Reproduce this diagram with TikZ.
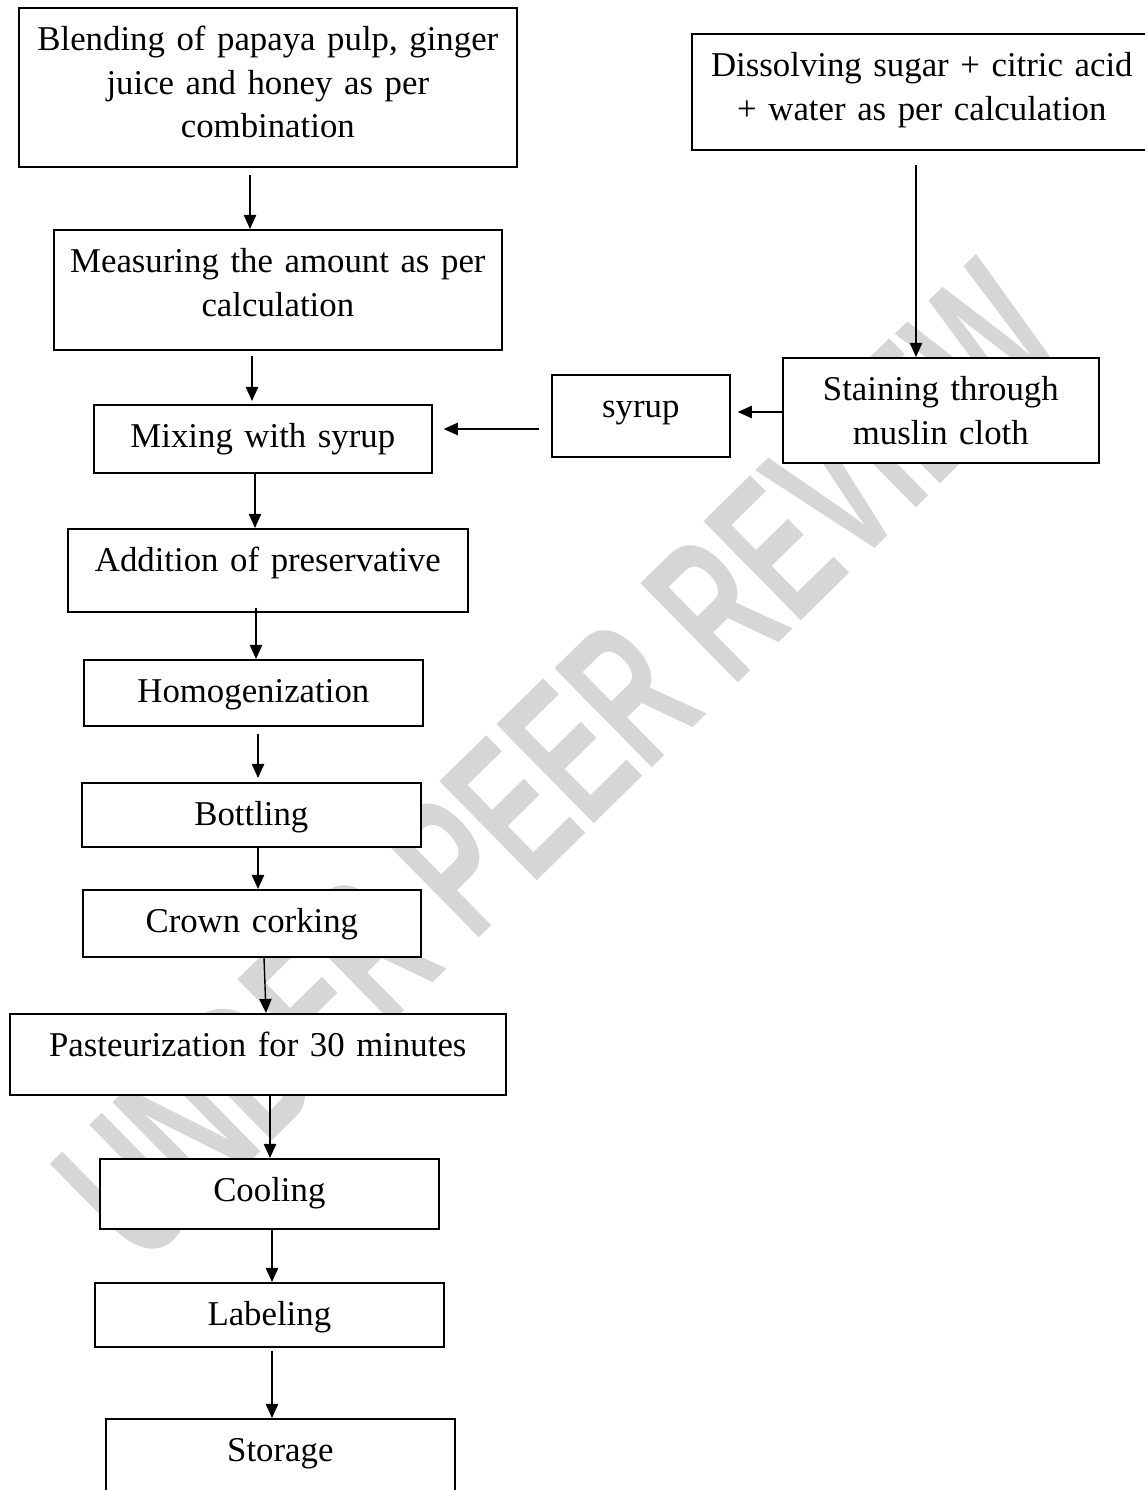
\documentclass[tikz,border=0pt]{standalone}
\usepackage{fontspec}
\setmainfont{Liberation Serif}
\newfontfamily\wmfont{Liberation Sans}
\usetikzlibrary{arrows.meta}

\begin{document}
\begin{tikzpicture}[x=0.02cm,y=-0.02cm,
            stepbox/.style={draw,fill=white,line width=1pt,anchor=north west,align=center,inner sep=0pt,text height=0.86cm,font=\fontsize{19.8}{24.7}\selectfont},
            flow/.style={-{Triangle[length=8pt,width=7pt]},line width=0.8pt},
            watermark/.style={rotate=44.5,xscale=0.6,text=black!16,inner sep=0pt,font=\wmfont\bfseries\fontsize{115}{115}\selectfont}]
            \useasboundingbox (0,0) rectangle (1145,1490);

            \node[watermark] (wm) at (560,762) {UNDER PEER REVIEW};

            \node[stepbox,text width=9.96cm,text depth=2.32cm] (blend) at (18,7) {Blending of papaya pulp, ginger\\juice and honey as per\\combination};
            \node[stepbox,text width=9.2cm,text depth=1.46cm] (dissolve) at (691,33) {Dissolving sugar + citric acid\\+ water as per calculation};
            \node[stepbox,text width=8.96cm,text depth=1.54cm] (measure) at (53,229) {Measuring the amount as per\\calculation};
            \node[stepbox,text width=6.32cm,text depth=1.24cm] (strain) at (782,357) {Staining through\\muslin cloth};
            \node[stepbox,text width=3.56cm,text depth=0.78cm] (syrup) at (551,374) {syrup};
            \node[stepbox,text width=6.76cm,text depth=0.5cm] (mix) at (93,404) {Mixing with syrup};
            \node[stepbox,text width=8cm,text depth=0.8cm] (addpres) at (67,528) {Addition of preservative};
            \node[stepbox,text width=6.78cm,text depth=0.46cm] (homog) at (83,659) {Homogenization};
            \node[stepbox,text width=6.78cm,text depth=0.42cm] (bottle) at (81,782) {Bottling};
            \node[stepbox,text width=6.76cm,text depth=0.48cm] (cork) at (82,889) {Crown corking};
            \node[stepbox,text width=9.92cm,text depth=0.76cm] (pasteur) at (9,1013) {Pasteurization for 30 minutes};
            \node[stepbox,text width=6.78cm,text depth=0.54cm] (cool) at (99,1158) {Cooling};
            \node[stepbox,text width=6.98cm,text depth=0.42cm] (labeling) at (94,1282) {Labeling};
            \node[stepbox,text width=6.98cm,text depth=0.94cm] (store) at (105,1418) {Storage};

            \draw[flow,shorten <=0.14cm] (blend.south -| 250,0) -- (measure.north -| 250,0);
            \draw[flow,shorten <=0.28cm] (dissolve.south -| 916,0) -- (strain.north -| 916,0);
            \draw[flow,shorten <=0.1cm,shorten >=0.06cm] (measure.south -| 252,0) -- (mix.north -| 252,0);
            \draw[flow,shorten >=0.14cm] (strain.west |- 0,412) -- (syrup.east |- 0,412);
            \draw[flow,shorten <=0.24cm,shorten >=0.22cm] (syrup.west |- 0,429) -- (mix.east |- 0,429);
            \draw[flow] (mix.south -| 255,0) -- (addpres.north -| 255,0);
            \draw[flow,shorten <=-0.1cm] (addpres.south -| 256,0) -- (homog.north -| 256,0);
            \draw[flow,shorten <=0.14cm,shorten >=0.08cm] (homog.south -| 258,0) -- (bottle.north -| 258,0);
            \draw[flow] (bottle.south -| 258,0) -- (cork.north -| 258,0);
            \draw[flow] (cork.south -| 264,0) -- (pasteur.north -| 266,0);
            \draw[flow] (pasteur.south -| 270,0) -- (cool.north -| 270,0);
            \draw[flow] (cool.south -| 272,0) -- (labeling.north -| 272,0);
            \draw[flow,shorten <=0.06cm] (labeling.south -| 272,0) -- (store.north -| 272,0);

        \end{tikzpicture}
\end{document}
